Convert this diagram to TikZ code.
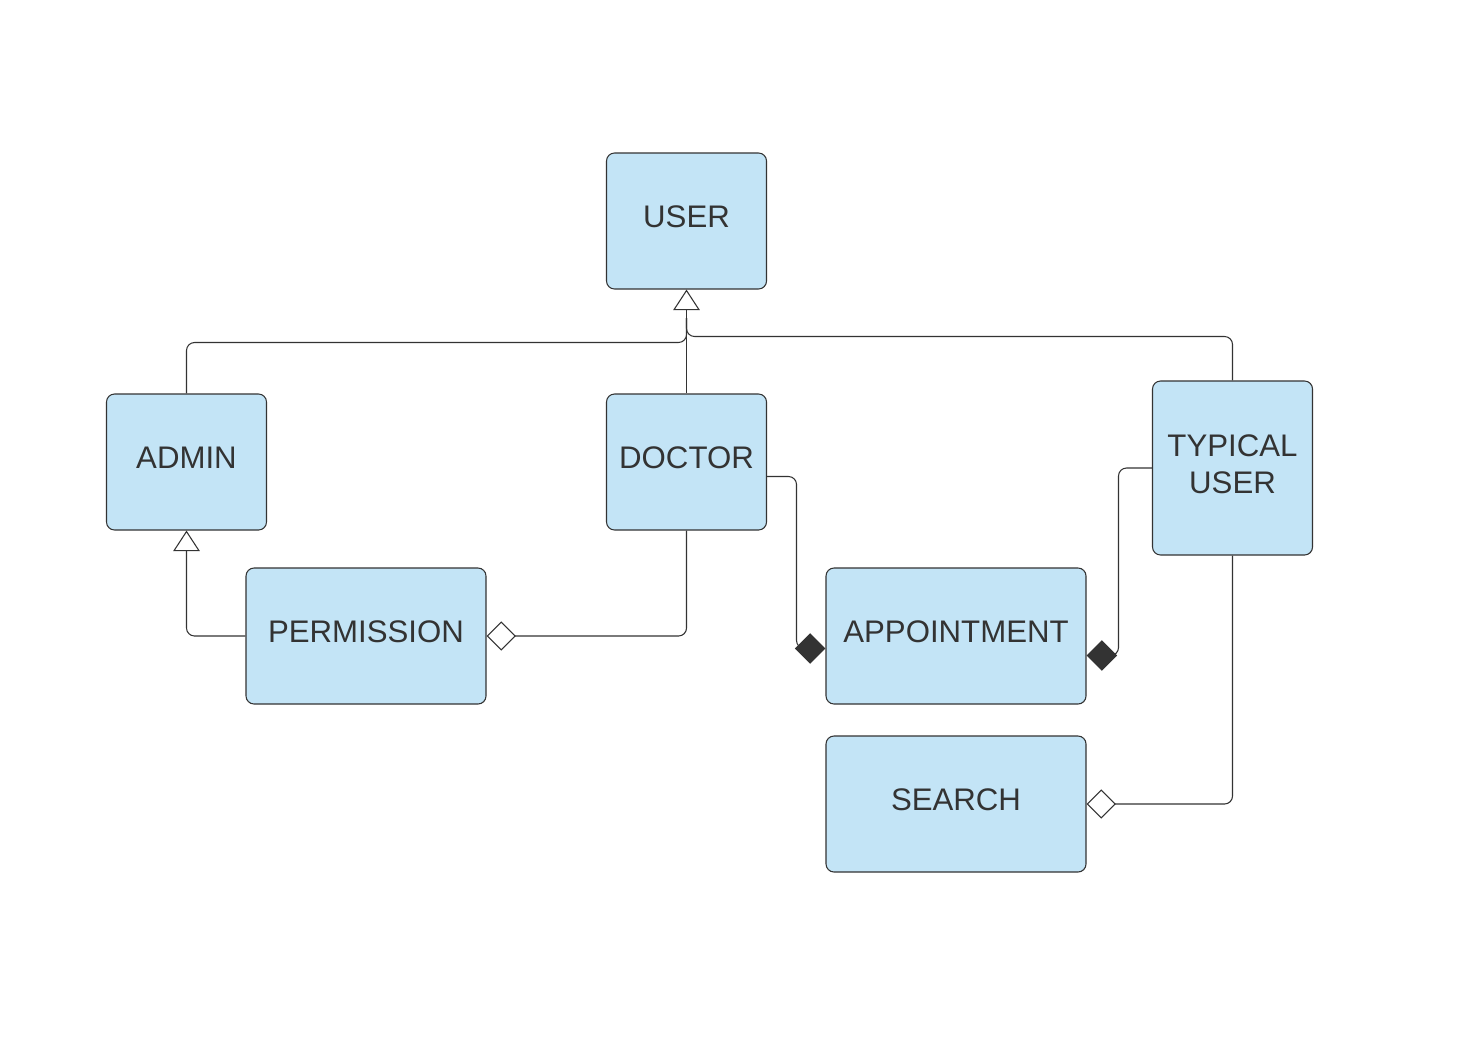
\documentclass[tikz,border=0pt]{standalone}
\usepackage{fontspec}
\setmainfont{Liberation Sans}
\usetikzlibrary{arrows.meta}
\definecolor{boxfill}{HTML}{C3E4F6}
\definecolor{ink}{HTML}{333333}
\begin{document}
\begin{tikzpicture}[x=0.75pt,y=-0.75pt,
  cls/.style={draw=ink,fill=boxfill,rounded corners=6pt,line width=0.8pt,
    font=\fontsize{23.4}{28}\selectfont,text=ink,align=center,inner sep=0pt,text depth=6pt},
  conn/.style={draw=ink,line width=0.8pt,rounded corners=6pt},
  gen/.style={-{Triangle[open,length=15.5pt,width=20pt,fill=white]}},
  agg/.style={-{Diamond[open,length=22pt,width=22pt,fill=white]}},
  comp/.style={-{Diamond[length=23pt,width=23pt,fill=ink]}}]
\useasboundingbox (0,0) rectangle (1459,1056);
\node[cls,minimum width=120pt,minimum height=102pt] (user) at (686.5,221) {USER};
\node[cls,minimum width=120pt,minimum height=102pt] (admin) at (186.5,462) {ADMIN};
\node[cls,minimum width=120pt,minimum height=102pt] (doctor) at (686.5,462) {DOCTOR};
\node[cls,minimum width=120pt,minimum height=130.5pt] (typ) at (1232.5,468) {TYPICAL\\USER};
\node[cls,minimum width=180pt,minimum height=102pt] (perm) at (366,636) {PERMISSION};
\node[cls,minimum width=195pt,minimum height=102pt] (appt) at (956,636) {APPOINTMENT};
\node[cls,minimum width=195pt,minimum height=102pt] (search) at (956,804) {SEARCH};
\coordinate (ja) at (686.5,342.5);
\coordinate (jt) at (686.5,336.5);
\coordinate (jtop) at (686.5,318);
\draw[conn] (admin.north) |- (ja) -- (jtop);
\draw[conn] (typ.north) |- (jt) -- (jtop);
\draw[conn,gen] (doctor.north) -- (user.south);
\draw[conn,gen] (perm.west) -| (admin.south);
\draw[conn,agg] (doctor.south) |- (perm.east);
\draw[conn,comp] (doctor.east |- 0,476.5) -| (796.5,648.5) -- (appt.west |- 0,648.5);
\draw[conn,comp] (typ.west) -| (1118.5,655.5) -- (appt.east |- 0,655.5);
\draw[conn,agg] (typ.south) |- (search.east);
\end{tikzpicture}
\end{document}
